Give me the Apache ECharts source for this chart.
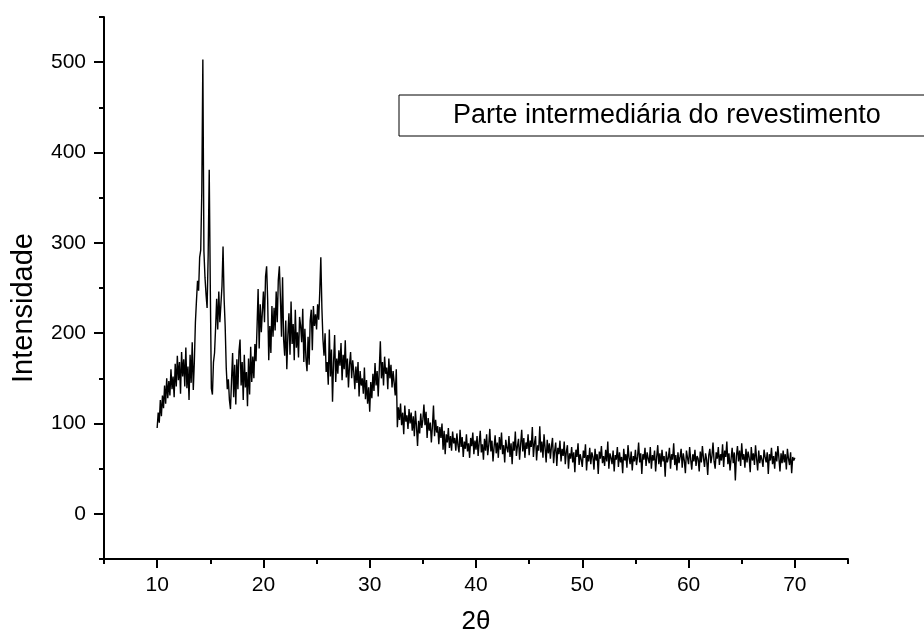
<!DOCTYPE html>
<html><head><meta charset="utf-8">
<script src="https://cdn.jsdelivr.net/npm/echarts@6/dist/echarts.min.js"></script>
<style>html,body{margin:0;padding:0;background:#fff}#c{width:924px;height:640px}</style>
</head><body><div id="c"></div>
<script>
const seriesName = 'Parte intermediária do revestimento';
const xTitle = '2θ';
const yTitle = 'Intensidade';
const twoThetaStart = 10.0;
const twoThetaStep = 0.1;
// intensity, one row per degree (10.0 ... 69.9), then 70.0
const intensity = [
  95,112,101,126,108,131,117,142,122,150,
  128,147,131,160,138,152,129,166,141,175,
  148,168,133,179,152,171,141,184,139,163,
  126,176,145,190,137,168,212,236,258,247,
  284,292,356,503,291,262,243,228,286,381,
  252,139,132,168,178,206,238,204,246,212,
  232,252,296,238,208,162,138,149,126,116,
  148,178,129,165,121,171,138,180,193,142,
  168,126,176,140,157,119,172,132,185,146,
  174,150,188,169,207,249,183,232,201,224,
  246,212,263,274,236,170,208,178,230,196,
  228,203,246,212,259,274,238,196,262,193,
  175,214,160,198,222,176,235,188,210,170,
  226,184,201,173,218,208,190,227,168,205,
  172,158,196,165,214,226,181,230,208,221,
  204,232,215,246,284,228,193,175,200,157,
  168,143,204,152,182,124,168,198,146,172,
  155,181,164,189,148,176,160,192,151,172,
  140,165,179,150,170,157,138,163,145,168,
  130,158,142,150,133,162,127,148,122,140,
  113,146,128,155,136,167,142,158,130,160,
  191,150,168,142,174,155,162,138,172,150,
  165,140,158,145,131,160,96,118,104,122,
  98,112,88,120,102,109,94,116,100,112,
  92,108,86,114,97,75,103,89,111,95,
  104,121,98,113,84,106,92,101,79,97,
  120,86,104,90,97,77,96,84,100,71,
  92,66,88,79,95,73,86,70,91,78,
  84,70,89,76,68,93,74,85,63,80,
  72,88,69,78,62,84,75,90,66,81,
  71,86,64,79,92,68,77,60,83,70,
  88,65,76,94,69,81,58,74,87,67,
  79,62,85,71,90,66,76,57,82,73,
  68,86,63,78,55,80,70,91,64,75,
  83,60,77,93,69,84,62,79,72,88,
  65,81,74,96,63,78,86,59,76,70,
  97,68,80,62,88,73,57,82,67,78,
  61,75,84,56,70,79,53,73,66,81,
  58,72,64,80,55,69,76,50,67,61,
  74,57,68,46,71,63,78,54,66,60,
  52,70,62,77,48,65,58,73,55,68,
  63,49,72,59,66,44,69,61,75,56,
  64,53,71,58,80,50,67,62,55,70,
  47,65,60,74,52,68,57,63,45,72,
  59,66,51,76,62,55,69,48,64,58,
  71,54,63,79,57,67,44,66,60,73,
  53,68,61,56,74,50,65,59,70,47,
  63,76,55,67,52,71,58,64,41,69,
  57,62,73,50,66,60,78,54,65,48,
  68,56,63,72,51,67,59,45,70,62,
  55,74,60,49,66,58,71,53,64,61,
  47,69,57,75,62,52,67,60,43,65,
  72,56,64,79,58,50,68,61,74,54,
  66,59,77,52,70,63,80,55,67,48,
  61,73,56,68,37,64,75,58,70,53,
  78,60,66,51,72,57,69,62,46,74,
  59,67,54,76,61,48,70,56,65,60,
  52,71,63,57,68,44,66,59,73,55,
  64,50,69,58,75,62,47,67,56,70,
  57,66,49,72,61,54,68,45,63,59,
  62
];
const xMajorTicks = [10, 20, 30, 40, 50, 60, 70];
const xMinorTicks = [5, 15, 25, 35, 45, 55, 65, 75];
const yMajorTicks = [0, 100, 200, 300, 400, 500];
const yMinorTicks = [-50, 50, 150, 250, 350, 450, 550];

const FONT = '"Liberation Sans", Arial, Helvetica, sans-serif';
const data = intensity.map((v, i) => [+(twoThetaStart + i * twoThetaStep).toFixed(1), v]);

const axisLineStyle = { color: '#000', width: 2 };
const chart = echarts.init(document.getElementById('c'), null, { renderer: 'canvas' });
chart.setOption({
  animation: false,
  backgroundColor: '#fff',
  grid: { left: 104, right: 76, top: 17, bottom: 80, containLabel: false },
  legend: {
    show: true, left: 399, top: 95, orient: 'horizontal',
    icon: 'none', itemWidth: 0, itemHeight: 0, itemGap: 0,
    borderColor: '#000', borderWidth: 1, padding: [7, 120, 7, 49],
    selectedMode: false,
    textStyle: { fontSize: 27, color: '#000', fontFamily: FONT, padding: 0 },
    data: [seriesName]
  },
  xAxis: [{
    type: 'value', min: 5, max: 75, position: 'bottom',
    axisLine: { show: true, onZero: false, lineStyle: axisLineStyle },
    axisTick: { show: true, inside: false, length: 9, customValues: xMajorTicks, lineStyle: axisLineStyle },
    axisLabel: { show: true, customValues: xMajorTicks, fontSize: 21, color: '#000', fontFamily: FONT, margin: 16 },
    splitLine: { show: false },
    name: xTitle, nameLocation: 'middle', nameGap: 50,
    nameTextStyle: { fontSize: 26, color: '#000', fontFamily: FONT }
  }, {
    type: 'value', min: 5, max: 75, position: 'bottom', offset: 0,
    axisLine: { show: false, onZero: false },
    axisTick: { show: true, inside: false, length: 5, customValues: xMinorTicks, lineStyle: axisLineStyle },
    axisLabel: { show: false },
    splitLine: { show: false }
  }],
  yAxis: [{
    type: 'value', min: -50, max: 550, position: 'left',
    axisLine: { show: true, onZero: false, lineStyle: axisLineStyle },
    axisTick: { show: true, inside: false, length: 10, customValues: yMajorTicks, lineStyle: axisLineStyle },
    axisLabel: { show: true, customValues: yMajorTicks, fontSize: 21, color: '#000', fontFamily: FONT, margin: 18 },
    splitLine: { show: false },
    name: yTitle, nameLocation: 'middle', nameGap: 66,
    nameTextStyle: { fontSize: 29, color: '#000', fontFamily: FONT, padding: [0, 40, 0, 0] }
  }, {
    type: 'value', min: -50, max: 550, position: 'left', offset: 0,
    axisLine: { show: false, onZero: false },
    axisTick: { show: true, inside: false, length: 5, customValues: yMinorTicks, lineStyle: axisLineStyle },
    axisLabel: { show: false },
    splitLine: { show: false }
  }],
  series: [{
    name: seriesName, type: 'line', data: data,
    xAxisIndex: 0, yAxisIndex: 0,
    showSymbol: false, symbol: 'none', sampling: 'none',
    lineStyle: { color: '#000', width: 1.4 },
    itemStyle: { color: '#000' },
    emphasis: { disabled: true }
  }]
});
</script>
</body></html>
